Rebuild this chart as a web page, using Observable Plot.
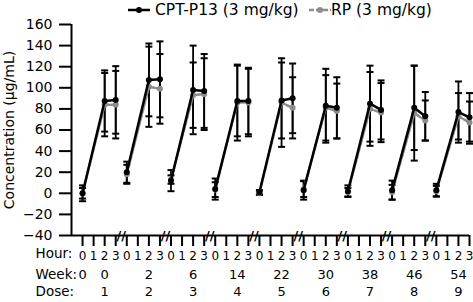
<!DOCTYPE html>
<html>
<head>
<meta charset="utf-8">
<script src="https://cdn.jsdelivr.net/npm/d3@7"></script>
<script src="https://cdn.jsdelivr.net/npm/@observablehq/plot@0.6"></script>
<style>
  body { margin: 0; background: #fff; font-family: "DejaVu Sans", sans-serif; }
  #wrap { position: relative; width: 473px; height: 302px; overflow: hidden; background: #fff; }
  #legend { position: relative; height: 20px; font-size: 15.5px; color: #000; }
  #legend .item { position: absolute; top: 0; height: 20px; line-height: 20px; white-space: nowrap; }
  #legend svg { position: absolute; top: 0; }
  #chart svg { display: block; }
</style>
</head>
<body>
<div id="wrap">
  <div id="legend"></div>
  <div id="chart"></div>
</div>
<script>
// ---- data ----
const seriesNames = ["CPT-P13 (3 mg/kg)", "RP (3 mg/kg)"];
const doses = [1, 2, 3, 4, 5, 6, 7, 8, 9];
const weeks = [0, 2, 6, 14, 22, 30, 38, 46, 54];
const baselineWeek = 0;
const hourLabels = ["0", "1", "2", "3"];
const sampledHours = [0, 2, 3];
const yTicks = [-40, -20, 0, 20, 40, 60, 80, 100, 120, 140, 160];
const rowLabels = ["Hour:", "Week:", "Dose:"];
const yTitle = "Concentration (μg/mL)";

// mean at hours 0, 2, 3 for each dose
const cptMean = [
  [0, 87.5, 88.5], [20, 107.5, 108], [12, 98, 97], [4, 87.5, 87.5], [1, 88, 90],
  [3, 83, 81], [2, 85, 79], [3, 81, 73], [3, 77, 72]
];
const cptSD = [
  [7.5, 29, 32], [10, 34.5, 36], [10, 42, 35], [10, 33.5, 31.5], [2, 36, 33],
  [9, 35, 29], [5.5, 36, 28], [9, 40, 23], [6, 29, 23]
];
const rpMean = [
  [0, 84, 84], [18, 101, 99], [13, 93, 94], [3.5, 86, 86], [0.5, 86, 81],
  [4, 81, 78], [1, 80, 76.5], [1, 76, 69], [2, 73, 67]
];
const rpSD = [
  [5, 30, 32], [9, 38, 33], [4, 31, 34], [7, 36, 32], [2, 42, 29],
  [7.5, 31, 26], [4, 35, 28], [7, 45, 19], [5, 22, 20]
];

// ---- build table ----
const nH = hourLabels.length;
function build(name, means, sds) {
  const out = [];
  doses.forEach((dose, g) => {
    sampledHours.forEach((h, k) => {
      const m = means[g][k], s = sds[g][k];
      out.push({series: name, dose, idx: g * nH + h, mean: m, lo: m - s, hi: m + s});
    });
  });
  return out;
}
const cpt = build(seriesNames[0], cptMean, cptSD);
const rp = build(seriesNames[1], rpMean, rpSD);
const all = rp.concat(cpt);

const hourTicks = d3.range(doses.length * nH);
const weekRow = [{idx: 0, label: String(baselineWeek)}].concat(
  weeks.map((w, g) => ({idx: g * nH + 2, label: String(w)})));
const doseRow = doses.map((d, g) => ({idx: g * nH + 2, label: String(d)}));
const breaks = d3.range(doses.length - 1).map(g => g * nH + nH - 0.5);

const black = "#000";
const gray = "#8c8c8c";

const capSymbol = {
  draw(context, size) {
    const w = Math.sqrt(size / Math.PI);
    context.moveTo(-w, 0);
    context.lineTo(w, 0);
  }
};

function rowLabel(text, dy) {
  return Plot.text([text], {frameAnchor: "bottom-left", dx: -36, dy, textAnchor: "start", fontSize: 13.5});
}

const chart = Plot.plot({
  width: 473,
  height: 282,
  marginLeft: 71,
  marginRight: 4,
  marginTop: 4,
  marginBottom: 67,
  x: {domain: [-1, hourTicks.length - 1]},
  y: {domain: [yTicks[0], yTicks[yTicks.length - 1]]},
  style: {fontFamily: "DejaVu Sans, sans-serif", fontSize: "14px", color: "black", background: "white", overflow: "visible"},
  marks: [
    // error bars
    Plot.ruleX(all, {x: "idx", y1: "lo", y2: "hi", stroke: black, strokeWidth: 1.8}),
    Plot.dot(all, {x: "idx", y: "lo", symbol: capSymbol, r: 3.5, stroke: black, strokeWidth: 2, fill: "none"}),
    Plot.dot(all, {x: "idx", y: "hi", symbol: capSymbol, r: 3.5, stroke: black, strokeWidth: 2, fill: "none"}),
    // RP
    Plot.line(rp, {x: "idx", y: "mean", z: "dose", stroke: gray, strokeWidth: 2.5, strokeDasharray: "5,2"}),
    Plot.dot(rp, {x: "idx", y: "mean", r: 3, fill: gray}),
    // CPT-P13
    Plot.line(cpt, {x: "idx", y: "mean", z: "dose", stroke: black, strokeWidth: 2.5}),
    Plot.dot(cpt, {x: "idx", y: "mean", r: 3, fill: black}),
    // axes
    Plot.ruleX([-1], {y1: yTicks[0], y2: yTicks[yTicks.length - 1], stroke: black, strokeWidth: 2}),
    Plot.ruleY([yTicks[0]], {x1: -1, x2: hourTicks.length - 1, stroke: black, strokeWidth: 2}),
    Plot.axisY({ticks: yTicks, tickSize: 12, tickPadding: 7, strokeWidth: 2, label: null, fontSize: 14}),
    Plot.axisX({ticks: hourTicks, tickFormat: i => hourLabels[i % nH], tickSize: 11, tickPadding: 5, strokeWidth: 2, label: null, fontSize: 12}),
    Plot.text(breaks, {x: d => d, y: yTicks[0], text: () => "//", fontWeight: "bold", fontSize: 13, fill: black}),
    Plot.text(weekRow, {x: "idx", text: "label", frameAnchor: "bottom", dy: 43, fontSize: 13}),
    Plot.text(doseRow, {x: "idx", text: "label", frameAnchor: "bottom", dy: 60, fontSize: 13}),
    rowLabel(rowLabels[0], 22),
    rowLabel(rowLabels[1], 43),
    rowLabel(rowLabels[2], 60),
    Plot.text([yTitle], {frameAnchor: "left", dx: -62, rotate: -90, textAnchor: "middle", fontSize: 14})
  ]
});
document.getElementById("chart").appendChild(chart);

// ---- legend ----
const legend = document.getElementById("legend");
const legendItems = [
  {name: seriesNames[0], color: black, dash: null, symLeft: 127, textLeft: 155},
  {name: seriesNames[1], color: gray, dash: "5,2", symLeft: 308, textLeft: 331}
];
legendItems.forEach(it => {
  const svg = d3.create("svg").attr("width", 24).attr("height", 20).style("left", it.symLeft + "px");
  svg.append("line").attr("x1", 1).attr("x2", 23).attr("y1", 10).attr("y2", 10)
    .attr("stroke", it.color).attr("stroke-width", 2.5).attr("stroke-dasharray", it.dash);
  svg.append("circle").attr("cx", 12).attr("cy", 10).attr("r", 3).attr("fill", it.color);
  legend.appendChild(svg.node());
  const span = document.createElement("span");
  span.className = "item";
  span.style.left = it.textLeft + "px";
  span.textContent = it.name;
  legend.appendChild(span);
});
</script>
</body>
</html>
